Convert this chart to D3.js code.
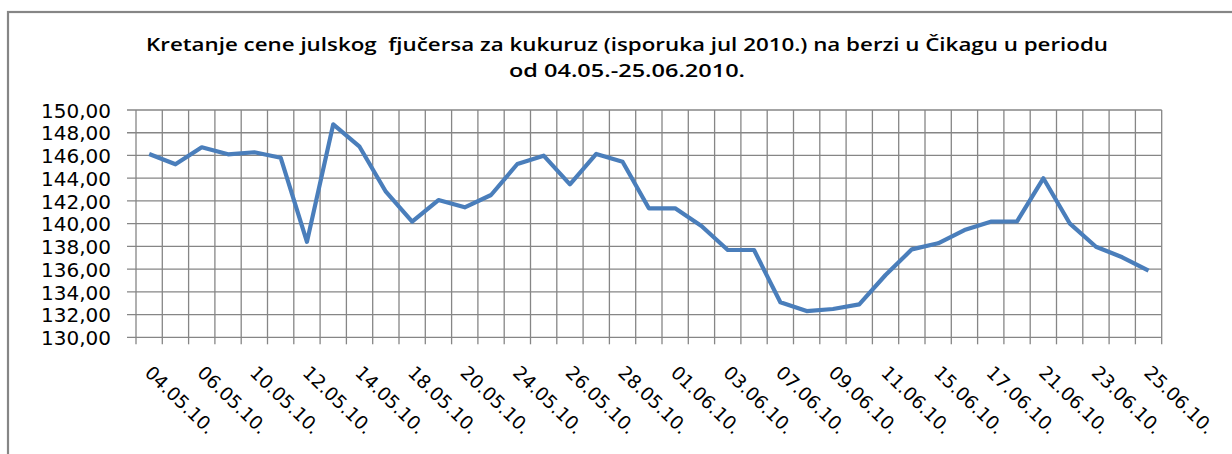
<!DOCTYPE html>
<html>
<head>
<meta charset="utf-8">
<script src="https://cdn.jsdelivr.net/npm/d3@7"></script>
<style>
	body { margin: 0; background: #fff; }
	text { font-family: "DejaVu Sans", Verdana, sans-serif; fill: #000; }
</style>
</head>
<body>
<div id="chart"></div>
<script>
// trgovacki dani 04.05. - 25.06.2010.
var dates = ["04.05.10.","05.05.10.","06.05.10.","07.05.10.","10.05.10.","11.05.10.","12.05.10.","13.05.10.",
	"14.05.10.","17.05.10.","18.05.10.","19.05.10.","20.05.10.","21.05.10.","24.05.10.","25.05.10.",
	"26.05.10.","27.05.10.","28.05.10.","31.05.10.","01.06.10.","02.06.10.","03.06.10.","04.06.10.",
	"07.06.10.","08.06.10.","09.06.10.","10.06.10.","11.06.10.","14.06.10.","15.06.10.","16.06.10.",
	"17.06.10.","18.06.10.","21.06.10.","22.06.10.","23.06.10.","24.06.10.","25.06.10."];
var prices = [146.13,145.22,146.72,146.10,146.28,145.80,138.40,148.74,
	146.77,142.81,140.17,142.08,141.44,142.52,145.25,145.98,
	143.46,146.13,145.45,141.35,141.35,139.79,137.68,137.68,
	133.08,132.31,132.49,132.90,135.48,137.74,138.27,139.44,
	140.17,140.20,143.99,140.03,137.97,137.04,135.87];
var xLabels = dates.filter(function(d, i) { return i % 2 == 0; });
var yTicks = [130,132,134,136,138,140,142,144,146,148,150];
var titleLines = ["Kretanje cene julskog\u00a0 fjučersa za kukuruz (isporuka jul 2010.) na berzi u Čikagu u periodu",
	"od 04.05.-25.06.2010."];

var W = 1232, H = 454;
var plotL = 136, plotR = 1161.7, plotT = 110, plotB = 337.3;
var grid = "#868686";

var svg = d3.select("#chart").append("svg")
	.attr("width", W)
	.attr("height", H);

// okvir grafikona
svg.append("rect")
	.attr("x", 8).attr("y", 12)
	.attr("width", W + 20).attr("height", H + 20)
	.attr("fill", "none")
	.attr("stroke", grid)
	.attr("stroke-width", 2.2);

var xScale = d3.scaleBand()
	.domain(dates)
	.range([plotL, plotR])
	.padding(0);
var yScale = d3.scaleLinear()
	.domain([130, 150])
	.range([plotB, plotT]);

// horizontalne linije mreze
svg.append("g").selectAll("line")
	.data(yTicks)
	.enter().append("line")
	.attr("x1", plotL - 9)
	.attr("x2", plotR)
	.attr("y1", function(d) { return yScale(d); })
	.attr("y2", function(d) { return yScale(d); })
	.attr("stroke", grid)
	.attr("stroke-width", 1.3);

// vertikalne linije mreze (granice kategorija)
var bounds = dates.map(function(d) { return xScale(d); }).concat([xScale.range()[1]]);
svg.append("g").selectAll("line")
	.data(bounds)
	.enter().append("line")
	.attr("x1", function(d) { return d; })
	.attr("x2", function(d) { return d; })
	.attr("y1", plotT)
	.attr("y2", plotB + 7)
	.attr("stroke", grid)
	.attr("stroke-width", 1.3);

// y osa
var yAxis = svg.append("g")
	.attr("transform", "translate(" + plotL + ",0)")
	.call(d3.axisLeft(yScale)
		.tickValues(yTicks)
		.tickSize(0)
		.tickPadding(25)
		.tickFormat(function(d) { return d3.format(".2f")(d).replace(".", ","); }));
yAxis.select(".domain").remove();
yAxis.selectAll("text")
	.style("font-family", "'DejaVu Sans', sans-serif")
	.style("font-size", "20px")
	.attr("dy", "0.36em");

// x osa
var xAxis = svg.append("g")
	.attr("transform", "translate(0," + plotB + ")")
	.call(d3.axisBottom(xScale)
		.tickValues(xLabels)
		.tickSize(0));
xAxis.select(".domain").remove();
xAxis.selectAll("text")
	.attr("y", 0)
	.attr("dy", "0.35em")
	.attr("text-anchor", "start")
	.attr("transform", "translate(-1,32) rotate(44)")
	.style("font-family", "'DejaVu Sans', sans-serif")
	.style("font-size", "18.5px");

// linija cene
var line = d3.line()
	.x(function(d, i) { return xScale(dates[i]) + xScale.bandwidth() / 2; })
	.y(function(d) { return yScale(d); });
svg.append("path")
	.datum(prices)
	.attr("d", line)
	.attr("fill", "none")
	.attr("stroke", "#4a7ebb")
	.attr("stroke-width", 4.2)
	.attr("stroke-linejoin", "round");

// naslov
svg.append("g").selectAll("text")
	.data(titleLines)
	.enter().append("text")
	.attr("x", 627)
	.attr("y", function(d, i) { return 51 + i * 26; })
	.attr("text-anchor", "middle")
	.attr("textLength", function(d, i) { return i == 0 ? 962 : 236; })
	.attr("lengthAdjust", "spacingAndGlyphs")
	.style("font-family", "'Open Sans', sans-serif")
	.style("font-weight", "600")
	.style("font-size", "17.5px")
	.text(function(d) { return d; });
</script>
</body>
</html>
